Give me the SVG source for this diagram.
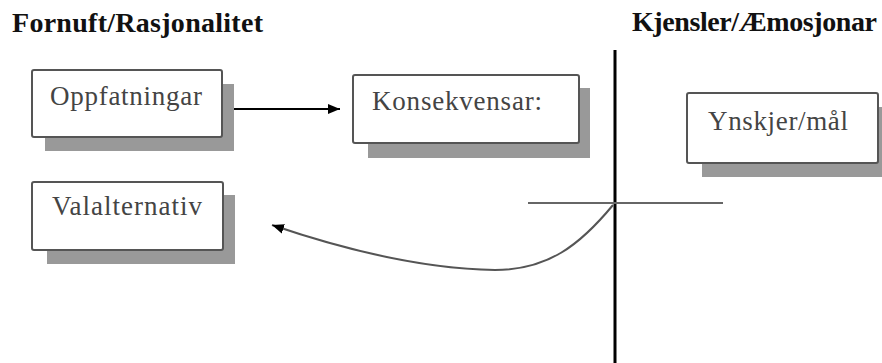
<svg xmlns="http://www.w3.org/2000/svg" width="882" height="363" viewBox="0 0 882 363">
<style>
.title{font-family:'Liberation Serif',Tinos,'Times New Roman',serif;font-weight:bold;font-size:28px;fill:#111}
.lbl{font-family:'Liberation Serif',Tinos,'Times New Roman',serif;font-size:27px;fill:#444}
.box{fill:#fff;stroke:#555;stroke-width:2}
.shadow{fill:#999}
.conn{fill:none;stroke:#000;stroke-width:2}
.curve{fill:none;stroke:#555;stroke-width:2}
</style>
<defs>
<marker id="ah" markerWidth="12" markerHeight="10" refX="12" refY="5" orient="auto" markerUnits="userSpaceOnUse">
<path d="M0,0 L12,5 L0,10 Z" fill="#000"/>
</marker>
</defs>
<rect width="882" height="363" fill="#fff"/>
<text class="title" x="12" y="32" textLength="251" lengthAdjust="spacing">Fornuft/Rasjonalitet</text>
<text class="title" x="632" y="31" textLength="245" lengthAdjust="spacing">Kjensler/Æmosjonar</text>
<g id="axes">
<line x1="615" y1="50" x2="615" y2="363" stroke="#000" stroke-width="3"/>
<line x1="528" y1="203" x2="723" y2="203" stroke="#666" stroke-width="2"/>
</g>
<g id="n-oppfatningar">
<rect class="shadow" x="45" y="84" width="189" height="67"/>
<rect class="box" x="32" y="70" width="190" height="67" rx="2"/>
<text class="lbl" x="50" y="105" textLength="152" lengthAdjust="spacing">Oppfatningar</text>
</g>
<g id="n-konsekvensar">
<rect class="shadow" x="368" y="88" width="222" height="70"/>
<rect class="box" x="353" y="75" width="226" height="68" rx="2"/>
<text class="lbl" x="372" y="110" textLength="170" lengthAdjust="spacing">Konsekvensar:</text>
</g>
<g id="n-ynskjer">
<rect class="shadow" x="702" y="107" width="185" height="70"/>
<rect class="box" x="687" y="93" width="191" height="70" rx="2"/>
<text class="lbl" x="708" y="130" textLength="140" lengthAdjust="spacing">Ynskjer/mål</text>
</g>
<g id="n-valalternativ">
<rect class="shadow" x="47" y="195" width="188" height="69"/>
<rect class="box" x="32" y="182" width="191" height="68" rx="2"/>
<text class="lbl" x="52" y="215" textLength="150" lengthAdjust="spacing">Valalternativ</text>
</g>
<g id="connectors">
<line class="conn" x1="234" y1="109" x2="340" y2="109" marker-end="url(#ah)"/>
<path class="curve" d="M613,205 C580,245 548,270 495,270 C430,269 360,255 272,225" marker-end="url(#ah)"/>
</g>
</svg>
